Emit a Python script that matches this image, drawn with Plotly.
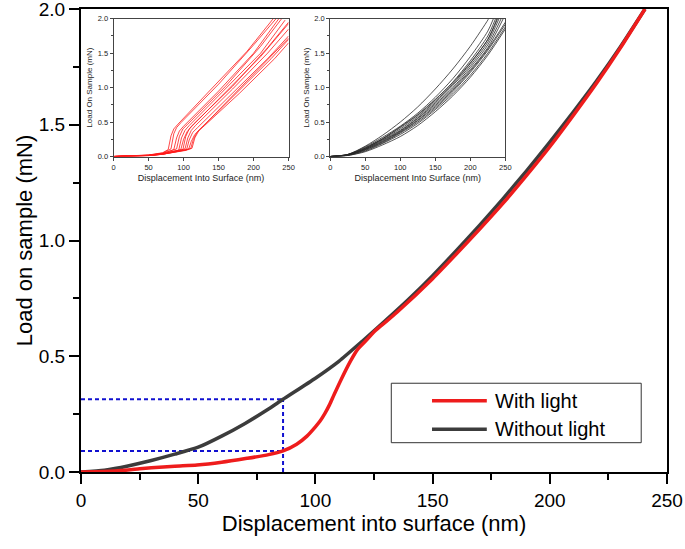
import plotly.graph_objects as go

# ---------------- main data ----------------
light_x = [0, 10, 20, 25, 30, 40, 49.5, 60, 70.8, 80, 86.2, 92, 96.4, 100, 102, 104, 106, 108, 111, 114.9, 118,
           122, 125.5, 130, 134.8, 150, 160, 170, 180, 190, 200, 210, 220, 230, 240.6]
light_y = [0, 0.002, 0.009, 0.014, 0.018, 0.025, 0.030, 0.042, 0.059, 0.075, 0.091, 0.12, 0.155, 0.195, 0.22, 0.252,
           0.29, 0.335, 0.40, 0.478, 0.53, 0.572, 0.61, 0.648, 0.69, 0.835, 0.94, 1.048, 1.16, 1.28, 1.405, 1.54,
           1.68, 1.83, 2.0]

dark_x = [0, 10, 20, 30, 40, 50, 60, 70, 80, 86.2, 100, 110, 120, 130, 140, 150, 160, 170, 180, 190, 200, 210,
          220, 230, 240.6]
dark_y = [0, 0.008, 0.026, 0.05, 0.077, 0.107, 0.155, 0.21, 0.272, 0.314, 0.405, 0.478, 0.565, 0.655, 0.748,
          0.848, 0.955, 1.065, 1.18, 1.30, 1.425, 1.555, 1.69, 1.835, 2.0]

# marker (dashed) guide values
guide_x = 86.2
guide_y_light = 0.091
guide_y_dark = 0.314

# ---------------- inset data: with light (red) ----------------
red_curves = [
    ([0, 25, 50, 70, 78, 82, 86, 92, 140, 190, 228], [0, 0.006, 0.022, 0.055, 0.10, 0.30, 0.40, 0.47, 0.98, 1.52, 2.0]),
    ([0, 25, 50, 70, 82, 86, 90, 96, 150, 200, 232], [0, 0.005, 0.020, 0.050, 0.11, 0.33, 0.42, 0.49, 1.05, 1.62, 2.0]),
    ([0, 25, 50, 70, 86, 90, 94, 100, 150, 200, 236], [0, 0.005, 0.018, 0.045, 0.10, 0.27, 0.37, 0.44, 0.95, 1.50, 2.0]),
    ([0, 25, 50, 70, 90, 94, 99, 105, 160, 210, 240], [0, 0.004, 0.018, 0.045, 0.11, 0.29, 0.40, 0.46, 1.02, 1.60, 2.0]),
    ([0, 25, 50, 70, 93, 97, 102, 108, 160, 210, 245], [0, 0.004, 0.016, 0.040, 0.09, 0.27, 0.38, 0.45, 0.98, 1.50, 1.98]),
    ([0, 25, 50, 70, 96, 100, 105, 111, 160, 210, 250], [0, 0.004, 0.016, 0.040, 0.10, 0.25, 0.36, 0.43, 0.93, 1.45, 1.93]),
    ([0, 25, 50, 70, 99, 103, 108, 114, 170, 220, 250], [0, 0.004, 0.015, 0.038, 0.10, 0.29, 0.40, 0.47, 1.02, 1.58, 1.95]),
    ([0, 25, 50, 70, 102, 106, 111, 117, 170, 220, 250], [0, 0.003, 0.015, 0.036, 0.11, 0.27, 0.38, 0.45, 0.98, 1.50, 1.85]),
    ([0, 25, 50, 70, 104, 108, 113, 120, 170, 220, 250], [0, 0.003, 0.014, 0.034, 0.09, 0.24, 0.35, 0.42, 0.92, 1.42, 1.75]),
    ([0, 25, 50, 70, 107, 111, 116, 123, 175, 225, 250], [0, 0.003, 0.014, 0.034, 0.10, 0.22, 0.32, 0.39, 0.92, 1.42, 1.70]),
    ([0, 25, 50, 70, 110, 114, 119, 126, 180, 230, 250], [0, 0.003, 0.013, 0.032, 0.11, 0.25, 0.35, 0.42, 0.98, 1.50, 1.72]),
    ([0, 25, 50, 70, 112, 116, 122, 130, 180, 230, 250], [0, 0.003, 0.013, 0.032, 0.12, 0.27, 0.38, 0.45, 0.92, 1.42, 1.65]),
]

# ---------------- inset data: without light (black) ----------------
black_curves = [
    ([0, 25, 50, 75, 100, 125, 150, 175, 200, 225, 226], [0, 0.03, 0.15, 0.31, 0.50, 0.72, 0.98, 1.27, 1.60, 1.98, 2.0]),
    ([0, 25, 50, 75, 100, 125, 150, 175, 200, 225, 233], [0, 0.03, 0.14, 0.28, 0.44, 0.63, 0.86, 1.13, 1.45, 1.82, 2.0]),
    ([0, 25, 50, 75, 100, 125, 150, 175, 200, 225, 236], [0, 0.03, 0.13, 0.26, 0.42, 0.60, 0.82, 1.08, 1.39, 1.75, 2.0]),
    ([0, 25, 50, 75, 100, 125, 150, 175, 200, 225, 238], [0, 0.025, 0.12, 0.25, 0.40, 0.58, 0.80, 1.05, 1.35, 1.70, 2.0]),
    ([0, 25, 50, 75, 100, 125, 150, 175, 200, 225, 239], [0, 0.025, 0.12, 0.26, 0.43, 0.61, 0.83, 1.07, 1.36, 1.70, 2.0]),
    ([0, 25, 50, 75, 100, 125, 150, 175, 200, 225, 241], [0, 0.025, 0.11, 0.24, 0.38, 0.56, 0.78, 1.03, 1.32, 1.66, 2.0]),
    ([0, 25, 50, 75, 100, 125, 150, 175, 200, 225, 244], [0, 0.02, 0.11, 0.23, 0.37, 0.55, 0.76, 1.00, 1.29, 1.62, 2.0]),
    ([0, 25, 50, 75, 100, 125, 150, 175, 200, 225, 247], [0, 0.02, 0.10, 0.22, 0.36, 0.53, 0.74, 0.98, 1.26, 1.58, 2.0]),
    ([0, 25, 50, 75, 100, 125, 150, 175, 200, 225, 250], [0, 0.02, 0.10, 0.21, 0.35, 0.52, 0.72, 0.96, 1.24, 1.56, 1.95]),
    ([0, 25, 50, 75, 100, 125, 150, 175, 200, 225, 250], [0, 0.02, 0.09, 0.20, 0.34, 0.50, 0.70, 0.94, 1.22, 1.54, 1.92]),
    ([0, 25, 50, 75, 100, 125, 150, 175, 200, 225, 250], [0, 0.015, 0.08, 0.19, 0.32, 0.48, 0.68, 0.91, 1.18, 1.50, 1.88]),
    ([0, 25, 50, 75, 100, 125, 150, 175, 200, 225, 250], [0, 0.015, 0.07, 0.17, 0.29, 0.45, 0.65, 0.88, 1.15, 1.47, 1.85]),
]

x_ticks = [0, 50, 100, 150, 200, 250]
y_ticks = [0.0, 0.5, 1.0, 1.5, 2.0]
legend_names = ["With light", "Without light"]

RED = "#ee1c1c"
DARK = "#3c3c3c"
BLUE = "#1010d0"
FONT = "Arial, Liberation Sans, sans-serif"

fig = go.Figure()

# dashed guide lines
for gx, gy in [([0, guide_x], [guide_y_dark, guide_y_dark]),
               ([0, guide_x], [guide_y_light, guide_y_light]),
               ([guide_x, guide_x], [0, guide_y_dark])]:
    fig.add_trace(go.Scatter(x=gx, y=gy, mode="lines", line=dict(color=BLUE, width=2, dash="4px,3px"),
                             showlegend=False, hoverinfo="skip"))

# main curves
fig.add_trace(go.Scatter(x=dark_x, y=dark_y, mode="lines", name=legend_names[1],
                         line=dict(color=DARK, width=3.5, shape="spline", smoothing=0.6), showlegend=False))
fig.add_trace(go.Scatter(x=light_x, y=light_y, mode="lines", name=legend_names[0],
                         line=dict(color=RED, width=3.5, shape="spline", smoothing=0.6), showlegend=False))

# insets
for cx, cy in red_curves:
    fig.add_trace(go.Scatter(x=cx, y=cy, mode="lines", xaxis="x2", yaxis="y2",
                             line=dict(color="#ff1a1a", width=0.8), showlegend=False, hoverinfo="skip"))
for cx, cy in black_curves:
    fig.add_trace(go.Scatter(x=cx, y=cy, mode="lines", xaxis="x3", yaxis="y3",
                             line=dict(color="#2a2a2a", width=0.8, shape="spline", smoothing=0.8),
                             showlegend=False, hoverinfo="skip"))

main_axis = dict(showline=True, linecolor="black", linewidth=2, mirror=True, showgrid=False, zeroline=False,
                 automargin=False, ticklabeloverflow="allow",
                 ticks="outside", ticklen=10, tickwidth=1.5, tickcolor="black",
                 tickfont=dict(family=FONT, size=19, color="black"))

fig.update_layout(
    width=685, height=549,
    margin=dict(l=81, r=18, t=9, b=77, autoexpand=False),
    paper_bgcolor="white", plot_bgcolor="white",
    font=dict(family=FONT, color="black"),
    showlegend=False,
    xaxis=dict(**main_axis, range=[0, 250], tickvals=x_ticks, domain=[0, 1],
               minor=dict(ticks="outside", ticklen=6, dtick=25, tickcolor="black", tickwidth=1.5),
               title=dict(text="Displacement into surface (nm)", font=dict(family=FONT, size=22), standoff=5)),
    yaxis=dict(**main_axis, range=[0, 2.0], tickvals=y_ticks, tickformat=".1f", domain=[0, 1],
               minor=dict(ticks="outside", ticklen=6, dtick=0.25, tickcolor="black", tickwidth=1.5),
               title=dict(text="Load on sample (mN)", font=dict(family=FONT, size=22), standoff=0)),
)

inset_axis = dict(showline=True, linecolor="#444", linewidth=1, mirror=True, showgrid=False, zeroline=False,
                  automargin=False, ticklabeloverflow="allow",
                  ticks="outside", ticklen=3, tickwidth=0.8, tickcolor="#444",
                  tickfont=dict(family=FONT, size=7.5, color="#222"))
inset_ydom = [0.6814, 0.979]

fig.update_layout(
    xaxis2=dict(**inset_axis, domain=[0.0556, 0.3543], anchor="y2", range=[0, 250], tickvals=x_ticks,
                title=dict(text="Displacement Into Surface (nm)", font=dict(family=FONT, size=9, color="#222"),
                           standoff=4)),
    yaxis2=dict(**inset_axis, domain=inset_ydom, anchor="x2", range=[0, 2.0], tickvals=y_ticks, tickformat=".1f",
                minor=dict(ticks="outside", ticklen=2, dtick=0.25, tickcolor="#444"),
                title=dict(text="Load On Sample (mN)", font=dict(family=FONT, size=8, color="#222"), standoff=3)),
    xaxis3=dict(**inset_axis, domain=[0.4253, 0.7241], anchor="y3", range=[0, 250], tickvals=x_ticks,
                title=dict(text="Displacement Into Surface (nm)", font=dict(family=FONT, size=9, color="#222"),
                           standoff=4)),
    yaxis3=dict(**inset_axis, domain=inset_ydom, anchor="x3", range=[0, 2.0], tickvals=y_ticks, tickformat=".1f",
                minor=dict(ticks="outside", ticklen=2, dtick=0.25, tickcolor="#444"),
                title=dict(text="Load On Sample (mN)", font=dict(family=FONT, size=8, color="#222"), standoff=3)),
)

# manual legend box
fig.add_shape(type="rect", xref="paper", yref="paper", x0=0.5295, x1=0.956, y0=0.0633, y1=0.1917,
              line=dict(color="#333", width=1), fillcolor="white", layer="above")
legend_rows = [(0.1541, RED), (0.0923, DARK)]
for (yy, col), name in zip(legend_rows, legend_names):
    fig.add_shape(type="line", xref="paper", yref="paper", x0=0.599, x1=0.6925, y0=yy, y1=yy,
                  line=dict(color=col, width=3.5), layer="above")
    fig.add_annotation(xref="paper", yref="paper", x=0.703, y=yy, text=name, showarrow=False,
                       xanchor="left", yanchor="middle", font=dict(family=FONT, size=20, color="black"))

fig.write_html("out.html", config={"displayModeBar": False},
               post_script="document.body.style.margin='0';document.body.style.overflow='hidden';")
